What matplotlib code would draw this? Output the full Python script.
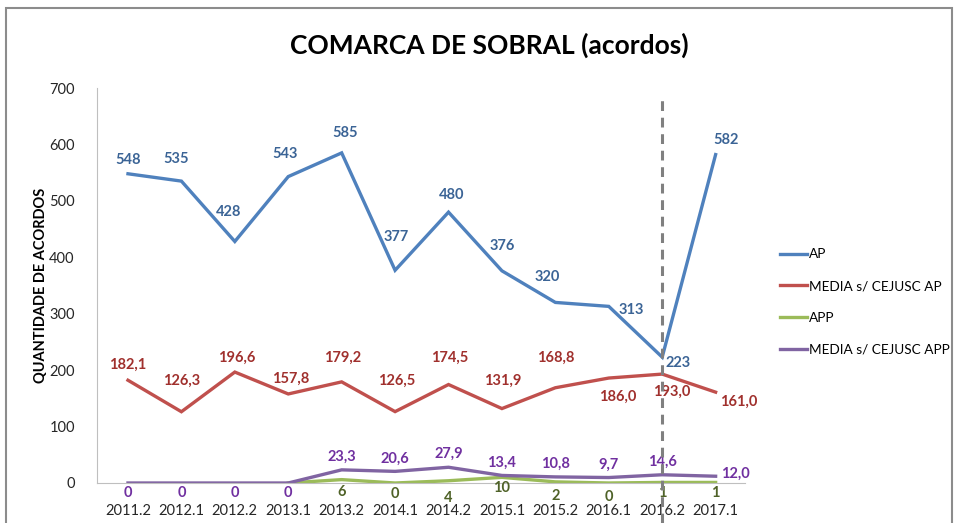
import matplotlib.pyplot as plt
from matplotlib.patches import Rectangle

periods = ['2011.2', '2012.1', '2012.2', '2013.1', '2013.2', '2014.1', '2014.2',
           '2015.1', '2015.2', '2016.1', '2016.2', '2017.1']
ap = [548, 535, 428, 543, 585, 377, 480, 376, 320, 313, 223, 582]
media_ap = [182.1, 126.3, 196.6, 157.8, 179.2, 126.5, 174.5, 131.9, 168.8, 186.0, 193.0, 161.0]
app = [None, None, None, 0, 6, 0, 4, 10, 2, 0, 1, 1]
media_app = [0, 0, 0, 0, 23.3, 20.6, 27.9, 13.4, 10.8, 9.7, 14.6, 12.0]

# label offsets in pixels (dx, dy)
ap_off = [(0, 14), (-5, 22), (-6, 29), (-3, 23), (3, 20), (1, 33), (3, 17),
          (0, 25), (-8, 25), (23, -4), (16, -6), (10, 15)]
media_ap_off = [(0, 15), (0, 31), (2, 14), (2, 15), (1, 24), (2, 31), (1, 27),
                (1, 28), (0, 30), (9, -19), (10, -18), (23, -10)]
app_off = [None, None, None, None, (0, -12), (0, -11), (0, -17), (0, -11),
           (0, -14), (0, -14), (0, -11), (0, -11)]
media_app_off = [(0, -10), (0, -10), (0, -10), (0, -10), (0, 13), (0, 13), (0, 13),
                 (0, 13), (0, 13), (0, 13), (0, 13), (20, 2)]

plt.rcParams['font.family'] = ['Lato', 'DejaVu Sans']

fig = plt.figure(figsize=(9.58, 5.23), dpi=100)
ax = fig.add_axes([97 / 958, 1 - 483 / 523, (745 - 97) / 958, (483 - 88) / 523])

x = list(range(len(periods)))
series = [
    ('AP', ap, '#4F81BD', '#3B6496', ap_off, lambda v: f'{v:.0f}'),
    ('MEDIA s/ CEJUSC AP', media_ap, '#C0504D', '#A0302D', media_ap_off,
     lambda v: f'{v:.1f}'.replace('.', ',')),
    ('APP', app, '#9BBB59', '#4F6228', app_off, lambda v: f'{v:.0f}'),
    ('MEDIA s/ CEJUSC APP', media_app, '#8064A2', '#7030A0', media_app_off,
     lambda v: f'{v:.1f}'.replace('.', ',') if v else '0'),
]

for name, vals, col, lcol, offs, fmt in series:
    xs = [i for i, v in zip(x, vals) if v is not None]
    ys = [v for v in vals if v is not None]
    ax.plot(xs, ys, color=col, lw=2.4, label=name, solid_joinstyle='miter')
    for i, v in zip(xs, ys):
        off = offs[i]
        if off is None:
            continue
        ax.annotate(fmt(v), (i, v), xytext=off, textcoords='offset pixels',
                    ha='center', va='center', fontsize=10.5, fontweight='bold',
                    color=lcol)

ax.axvline(10, ymin=-0.1, ymax=0.985, color='#808080', lw=2.2,
           ls=(0, (3.2, 2.2)), clip_on=False, zorder=5)

ax.set_xlim(-0.58, 11.55)
ax.set_ylim(0, 700)
ax.set_yticks(range(0, 701, 100))
ax.set_xticks(x)
ax.set_xticklabels(periods)
ax.tick_params(length=0, labelsize=10.5, colors='#262626')
ax.tick_params(axis='y', pad=16)
ax.tick_params(axis='x', pad=15)
for s in ['top', 'right']:
    ax.spines[s].set_visible(False)
for s in ['left', 'bottom']:
    ax.spines[s].set_color('#BFBFBF')

ax.set_ylabel('QUANTIDADE DE ACORDOS', fontsize=10.5, fontweight='bold', labelpad=1)
fig.text(489 / 958, 1 - 45 / 523, 'COMARCA DE SOBRAL (acordos)', ha='center',
         va='center', fontsize=19, fontweight='bold')

ax.legend(loc='center left', bbox_to_anchor=(768 / 958, 1 - 302 / 523),
          bbox_transform=fig.transFigure, frameon=False, fontsize=9.8,
          handlelength=2.0, handletextpad=0.1, labelspacing=1.45)

fig.patches.append(Rectangle((6 / 958, -0.1), 946 / 958, 1.1 - 8 / 523,
                             transform=fig.transFigure, fill=False,
                             edgecolor='#8C8C8C', lw=1.5))

fig.savefig('out.png', dpi=100)
